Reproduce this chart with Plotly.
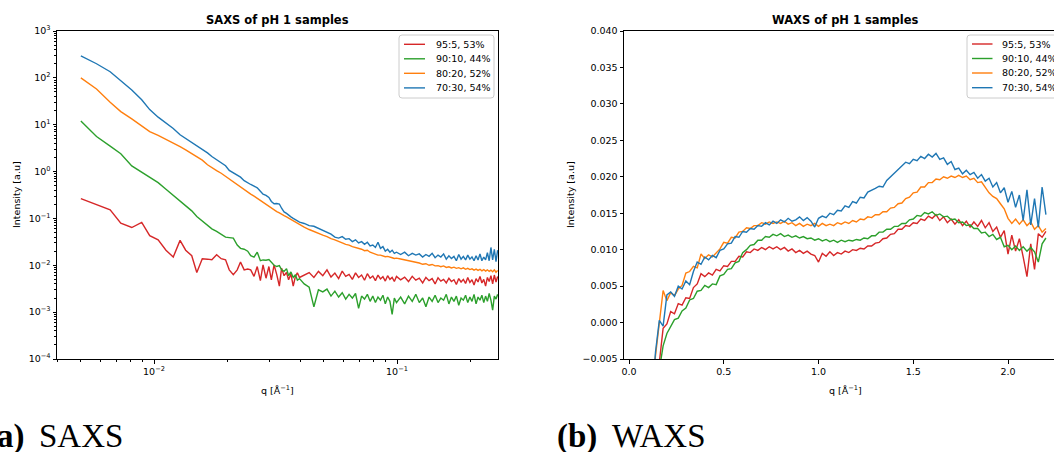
import plotly.graph_objects as go

W, H = 1054, 452

# ---------------- data ----------------
names = ["95:5, 53%", "90:10, 44%", "80:20, 52%", "70:30, 54%"]
colors = ["#d62728", "#2ca02c", "#ff7f0e", "#1f77b4"]

saxs_q = [
    0.0050, 0.0058, 0.0066, 0.0073, 0.0081, 0.0089, 0.0096, 0.0104, 0.0112, 0.0120,
    0.0128, 0.0135, 0.0143, 0.0150, 0.0158, 0.0166, 0.0173, 0.0181, 0.0189, 0.0197,
    0.0204, 0.0212, 0.0220, 0.0227, 0.0235, 0.0243, 0.0250, 0.0258, 0.0266, 0.0274,
    0.0281, 0.0289, 0.0297, 0.0304, 0.0312, 0.0320, 0.0328, 0.0335, 0.0343, 0.0351,
    0.0358, 0.0366, 0.0374, 0.0382, 0.0389, 0.0397,
    0.0415, 0.0435, 0.0455, 0.0475, 0.0495, 0.0515, 0.0535, 0.0555, 0.0575, 0.0595,
    0.0615, 0.0635, 0.0655, 0.0675, 0.0695, 0.0715, 0.0735, 0.0755, 0.0775, 0.0795,
    0.0815, 0.0835, 0.0855, 0.0875, 0.0895, 0.0915, 0.0935, 0.0955, 0.0975, 0.0995,
    0.1035, 0.1075, 0.1115, 0.1155, 0.1195, 0.1235, 0.1275, 0.1315, 0.1355, 0.1395,
    0.1435, 0.1475, 0.1515, 0.1555, 0.1595, 0.1635, 0.1675, 0.1715, 0.1755, 0.1795,
    0.1835, 0.1875, 0.1915, 0.1955, 0.1995, 0.2035, 0.2075, 0.2115, 0.2155, 0.2195,
    0.2235, 0.2275, 0.2315, 0.2355, 0.2395, 0.2435, 0.2475, 0.2515, 0.2555, 0.2595,
]

saxs_red = [
    0.265, 0.20, 0.152, 0.079, 0.064, 0.082, 0.043, 0.035, 0.021, 0.015,
    0.034, 0.021, 0.016, 0.0070, 0.0138, 0.0135, 0.0131, 0.0168, 0.0138, 0.0131,
    0.0080, 0.0063, 0.0080, 0.0117, 0.0080, 0.0083, 0.0080, 0.0058, 0.0094, 0.0047,
    0.0102, 0.0053, 0.0094, 0.0049, 0.0102, 0.0063, 0.0036, 0.0087, 0.0060, 0.0070,
    0.0049, 0.0065, 0.0036, 0.0058, 0.0069, 0.0055,
    0.0062, 0.0070, 0.0055, 0.0074, 0.0060, 0.0080, 0.0056, 0.0068, 0.0052, 0.0075,
    0.0058, 0.0064, 0.0050, 0.0069, 0.0055, 0.0062, 0.0048, 0.0066, 0.0053, 0.0059,
    0.0047, 0.0062, 0.0051, 0.0057, 0.0046, 0.0060, 0.0050, 0.0055, 0.0045, 0.0058,
    0.0049, 0.0056, 0.0045, 0.0058, 0.0048, 0.0053, 0.0042, 0.0055, 0.0047, 0.0052,
    0.0040, 0.0054, 0.0046, 0.0050, 0.0042, 0.0053, 0.0045, 0.0049, 0.0039, 0.0052,
    0.0044, 0.0050, 0.0041, 0.0055, 0.0043, 0.0049, 0.0038, 0.0052, 0.0044, 0.0058,
    0.0042, 0.0050, 0.0036, 0.0055, 0.0045, 0.0060, 0.0040, 0.0062, 0.0044, 0.0058,
]

saxs_green = [
    12.0, 5.6, 3.5, 2.4, 1.32, 0.98, 0.75, 0.58, 0.42, 0.31,
    0.23, 0.19, 0.145, 0.110, 0.088, 0.072, 0.060, 0.053, 0.045, 0.040,
    0.039, 0.038, 0.027, 0.023, 0.022, 0.020, 0.0160, 0.0150, 0.0190, 0.0125,
    0.0130, 0.0128, 0.0132, 0.0118, 0.0100, 0.0094, 0.0098, 0.0080, 0.0074, 0.0085,
    0.0060, 0.0072, 0.0055, 0.0063, 0.0048, 0.0052,
    0.0040, 0.0034, 0.0013, 0.0030, 0.0027, 0.0031, 0.0022, 0.0028, 0.0021, 0.0026,
    0.0019, 0.0024, 0.0020, 0.0025, 0.0012, 0.0022, 0.0019, 0.0024, 0.0017, 0.0022,
    0.0016, 0.0021, 0.0018, 0.0023, 0.0015, 0.0021, 0.0017, 0.0009, 0.0020, 0.0016,
    0.0021, 0.0015, 0.0022, 0.0017, 0.0024, 0.0016, 0.0020, 0.0013, 0.0021, 0.0017,
    0.0023, 0.0016, 0.0020, 0.0018, 0.0024, 0.0015, 0.0021, 0.0017, 0.0022, 0.0014,
    0.0020, 0.0018, 0.0023, 0.0016, 0.0021, 0.0017, 0.0024, 0.0015, 0.0021, 0.0018,
    0.0023, 0.0016, 0.0022, 0.0017, 0.0025, 0.0018, 0.0011, 0.0022, 0.0019, 0.0024,
]

saxs_orange = [
    100, 58, 30, 19, 13.3, 9.2, 7.1, 5.9, 4.9, 4.0,
    3.4, 2.9, 2.4, 2.05, 1.75, 1.40, 1.20, 1.05, 0.92, 0.79,
    0.69, 0.60, 0.53, 0.47, 0.40, 0.36, 0.33, 0.30, 0.27, 0.24,
    0.215, 0.20, 0.185, 0.165, 0.150, 0.140, 0.132, 0.122, 0.115, 0.108,
    0.102, 0.094, 0.088, 0.082, 0.077, 0.073,
    0.065, 0.058, 0.052, 0.048, 0.044, 0.041, 0.037, 0.035, 0.033, 0.030,
    0.028, 0.027, 0.025, 0.024, 0.0225, 0.022, 0.0205, 0.021, 0.019, 0.018,
    0.0175, 0.0165, 0.0165, 0.016, 0.0152, 0.0155, 0.0147, 0.0145, 0.0140, 0.0142,
    0.0136, 0.0130, 0.0127, 0.0122, 0.0118, 0.0112, 0.0105, 0.0108, 0.0100, 0.0104,
    0.0097, 0.0098, 0.0093, 0.0097, 0.0090, 0.0093, 0.0088, 0.0091, 0.0086, 0.0089,
    0.0084, 0.0088, 0.0082, 0.0086, 0.0081, 0.0084, 0.0079, 0.0083, 0.0078, 0.0082,
    0.0076, 0.0081, 0.0075, 0.0080, 0.0074, 0.0079, 0.0073, 0.0080, 0.0071, 0.0078,
]

saxs_blue = [
    295, 200, 135, 88, 55, 34, 21, 14.5, 11.0, 8.3,
    6.1, 5.1, 4.3, 3.6, 3.0, 2.5, 2.1, 1.77, 1.55, 1.33,
    1.06, 0.93, 0.84, 0.76, 0.64, 0.57, 0.53, 0.49, 0.45, 0.38,
    0.33, 0.31, 0.28, 0.23, 0.205, 0.208, 0.203, 0.165, 0.138, 0.128,
    0.116, 0.108, 0.100, 0.094, 0.088, 0.083,
    0.078, 0.070, 0.068, 0.061, 0.055, 0.051, 0.046, 0.040, 0.038, 0.041,
    0.036, 0.037, 0.032, 0.035, 0.030, 0.032, 0.028, 0.031, 0.026, 0.027,
    0.024, 0.031, 0.023, 0.025, 0.020, 0.022, 0.019, 0.021, 0.018, 0.019,
    0.017, 0.019, 0.016, 0.018, 0.0165, 0.0175, 0.015, 0.017, 0.0155, 0.018,
    0.0145, 0.0165, 0.015, 0.0175, 0.0135, 0.016, 0.014, 0.0155, 0.0125, 0.017,
    0.0135, 0.0155, 0.013, 0.0165, 0.0135, 0.015, 0.0125, 0.016, 0.013, 0.0175,
    0.0125, 0.015, 0.013, 0.0185, 0.0125, 0.024, 0.013, 0.022, 0.012, 0.021,
]

waxs_q = [
    0.10, 0.12, 0.14, 0.16, 0.18, 0.20, 0.22, 0.24, 0.26, 0.28,
    0.30, 0.32, 0.34, 0.36, 0.38, 0.40, 0.42, 0.44, 0.46, 0.48,
    0.50, 0.52, 0.54, 0.56, 0.58, 0.60, 0.62, 0.64, 0.66, 0.68,
    0.70, 0.72, 0.74, 0.76, 0.78, 0.80, 0.82, 0.84, 0.86, 0.88,
    0.90, 0.92, 0.94, 0.96, 0.98, 1.00, 1.02, 1.04, 1.06, 1.08,
    1.10, 1.12, 1.14, 1.16, 1.18, 1.20, 1.22, 1.24, 1.26, 1.28,
    1.30, 1.32, 1.34, 1.36, 1.38, 1.40, 1.42, 1.44, 1.46, 1.48,
    1.50, 1.52, 1.54, 1.56, 1.58, 1.60, 1.62, 1.64, 1.66, 1.68,
    1.70, 1.72, 1.74, 1.76, 1.78, 1.80, 1.82, 1.84, 1.86, 1.88,
    1.90, 1.92, 1.94, 1.96, 1.98, 2.00, 2.02, 2.04, 2.06, 2.08,
    2.10, 2.12, 2.14, 2.16, 2.18, 2.20,
]

waxs_red = [
    -0.025, -0.016, -0.009, -0.0055, -0.0008, -0.0002, 0.0015, 0.0012, 0.0026, 0.0024,
    0.0034, 0.0033, 0.0048, 0.0053, 0.0067, 0.0063, 0.0068, 0.0065, 0.0073, 0.0071,
    0.0078, 0.0077, 0.0084, 0.0084, 0.0091, 0.0090, 0.0097, 0.0096, 0.0101, 0.0099,
    0.0103, 0.0100, 0.0104, 0.0101, 0.0104, 0.0100, 0.0103, 0.0098, 0.0101, 0.0096,
    0.0099, 0.0095, 0.0098, 0.0094, 0.0092, 0.0083, 0.0095, 0.0091, 0.0097, 0.0092,
    0.0096, 0.0094, 0.0098, 0.0096, 0.0100, 0.0099, 0.0102, 0.0101, 0.0105, 0.0105,
    0.0109, 0.0110, 0.0115, 0.0116, 0.0121, 0.0122, 0.0128, 0.0128, 0.0133, 0.0132,
    0.0137, 0.0136, 0.0142, 0.0140, 0.0146, 0.0143, 0.0148, 0.0140, 0.0145, 0.0137,
    0.0142, 0.0135, 0.0141, 0.0133, 0.0139, 0.0131, 0.0138, 0.0132, 0.0140, 0.0130,
    0.0137, 0.0125, 0.0131, 0.0117, 0.0126, 0.0094, 0.0120, 0.0098, 0.0115, 0.0090,
    0.0063, 0.0108, 0.0073, 0.0122, 0.0117, 0.0125,
]

waxs_green = [
    -0.025, -0.018, -0.012, -0.0065, -0.0032, -0.0015, -0.0006, 0.0004, 0.0006, 0.0016,
    0.0020, 0.0031, 0.0033, 0.0043, 0.0044, 0.0051, 0.0048, 0.0053, 0.0052, 0.0064,
    0.0066, 0.0073, 0.0074, 0.0082, 0.0084, 0.0096, 0.0100, 0.0106, 0.0107, 0.0113,
    0.0113, 0.0118, 0.0117, 0.0121, 0.0119, 0.0122, 0.0118, 0.0120, 0.0117, 0.0119,
    0.0116, 0.0118, 0.0115, 0.0116, 0.0113, 0.0115, 0.0112, 0.0114, 0.0111, 0.0113,
    0.0110, 0.0113, 0.0111, 0.0113, 0.0112, 0.0114, 0.0113, 0.0116, 0.0115, 0.0119,
    0.0119, 0.0124, 0.0124, 0.0128, 0.0128, 0.0132, 0.0132, 0.0136, 0.0136, 0.0141,
    0.0142, 0.0147, 0.0146, 0.0151, 0.0149, 0.0152, 0.0147, 0.0149, 0.0145, 0.0146,
    0.0141, 0.0142, 0.0137, 0.0138, 0.0133, 0.0134, 0.0129, 0.0129, 0.0123, 0.0124,
    0.0118, 0.0121, 0.0114, 0.0117, 0.0104, 0.0106, 0.0100, 0.0105, 0.0099, 0.0104,
    0.0098, 0.0103, 0.0097, 0.0083, 0.0108, 0.0116,
]

waxs_orange = [
    -0.020, -0.010, -0.0045, 0.0000, 0.0044, 0.0030, 0.0041, 0.0037, 0.0046, 0.0051,
    0.0068, 0.0070, 0.0077, 0.0075, 0.0094, 0.0088, 0.0093, 0.0090, 0.0096, 0.0101,
    0.0110, 0.0109, 0.0117, 0.0116, 0.0124, 0.0125, 0.0130, 0.0129, 0.0133, 0.0133,
    0.0137, 0.0135, 0.0138, 0.0136, 0.0138, 0.0136, 0.0139, 0.0135, 0.0137, 0.0133,
    0.0136, 0.0132, 0.0135, 0.0133, 0.0136, 0.0132, 0.0136, 0.0133, 0.0135, 0.0133,
    0.0137, 0.0135, 0.0138, 0.0136, 0.0140, 0.0138, 0.0142, 0.0141, 0.0145, 0.0144,
    0.0148, 0.0148, 0.0152, 0.0152, 0.0157, 0.0158, 0.0163, 0.0164, 0.0170, 0.0172,
    0.0178, 0.0179, 0.0186, 0.0186, 0.0192, 0.0192, 0.0197, 0.0196, 0.0200, 0.0198,
    0.0201, 0.0199, 0.0202, 0.0199, 0.0201, 0.0196, 0.0198, 0.0192, 0.0193, 0.0185,
    0.0178, 0.0173, 0.0170, 0.0163, 0.0156, 0.0143, 0.0136, 0.0142, 0.0135, 0.0141,
    0.0133, 0.0138, 0.0128, 0.0133, 0.0124, 0.0129,
]

waxs_blue = [
    -0.020, -0.011, -0.004, 0.0003, -0.0005, 0.0038, 0.0042, 0.0036, 0.0050, 0.0046,
    0.0057, 0.0052, 0.0070, 0.0083, 0.0080, 0.0090, 0.0086, 0.0092, 0.0089, 0.0099,
    0.0101, 0.0108, 0.0109, 0.0118, 0.0117, 0.0125, 0.0124, 0.0129, 0.0128, 0.0133,
    0.0132, 0.0137, 0.0134, 0.0139, 0.0136, 0.0141, 0.0138, 0.0143, 0.0139, 0.0141,
    0.0145, 0.0140, 0.0144, 0.0139, 0.0131, 0.0143, 0.0146, 0.0144, 0.0150, 0.0148,
    0.0154, 0.0153, 0.0160, 0.0158, 0.0166, 0.0164, 0.0172, 0.0171, 0.0179, 0.0181,
    0.0184, 0.0187, 0.0186, 0.0195, 0.0200, 0.0205, 0.0210, 0.0214, 0.0220, 0.0218,
    0.0224, 0.0222, 0.0228, 0.0225, 0.0231, 0.0227, 0.0232, 0.0224, 0.0226, 0.0217,
    0.0221, 0.0210, 0.0212, 0.0204, 0.0209, 0.0203, 0.0206, 0.0198, 0.0203, 0.0194,
    0.0198, 0.0186, 0.0192, 0.0178, 0.0185, 0.0165, 0.0180, 0.0158, 0.0175, 0.0140,
    0.0182, 0.0134, 0.0170, 0.0131, 0.0186, 0.0148,
]

saxs_series = [saxs_red, saxs_green, saxs_orange, saxs_blue]
waxs_series = [waxs_red, waxs_green, waxs_orange, waxs_blue]

saxs_ytickvals = [1e-4, 1e-3, 1e-2, 1e-1, 1e0, 1e1, 1e2, 1e3]
saxs_yticktext = ["10<sup>−4</sup>", "10<sup>−3</sup>", "10<sup>−2</sup>", "10<sup>−1</sup>",
                  "10<sup>0</sup>", "10<sup>1</sup>", "10<sup>2</sup>", "10<sup>3</sup>"]
saxs_xtickvals = [1e-2, 1e-1]
saxs_xticktext = ["10<sup>−2</sup>", "10<sup>−1</sup>"]
waxs_xtickvals = [0.0, 0.5, 1.0, 1.5, 2.0]
waxs_xticktext = ["0.0", "0.5", "1.0", "1.5", "2.0"]
waxs_ytickvals = [-0.005, 0.0, 0.005, 0.010, 0.015, 0.020, 0.025, 0.030, 0.035, 0.040]
waxs_yticktext = ["−0.005", "0.000", "0.005", "0.010", "0.015", "0.020", "0.025",
                  "0.030", "0.035", "0.040"]

# ---------------- layout helpers ----------------
def fx(px):
    return px / W


def fy(py):
    return 1 - py / H


TICK_FONT = dict(family="DejaVu Sans", size=9.5, color="black")
LINE_W = 1.4

fig = go.Figure()

for name, col, ys in zip(names, colors, saxs_series):
    fig.add_trace(go.Scatter(x=saxs_q, y=ys, mode="lines", name=name,
                             line=dict(color=col, width=LINE_W),
                             xaxis="x", yaxis="y", showlegend=False))
for name, col, ys in zip(names, colors, waxs_series):
    fig.add_trace(go.Scatter(x=waxs_q, y=ys, mode="lines", name=name,
                             line=dict(color=col, width=LINE_W),
                             xaxis="x2", yaxis="y2", showlegend=False))

minor_x = [m * 10.0 ** e for e in (-3, -2, -1) for m in range(2, 10)]
minor_x = [v for v in minor_x if 0.00399 < v < 0.26]
minor_y = [m * 10.0 ** e for e in range(-4, 3) for m in range(2, 10)]

common = dict(showline=True, linecolor="black", linewidth=1, ticks="outside",
              ticklen=3.5, tickwidth=1, tickcolor="black", showgrid=False,
              zeroline=False, tickfont=TICK_FONT, tickmode="array")
minor_style = dict(tickmode="array", ticks="outside", ticklen=2, tickwidth=0.8,
                   tickcolor="black", showgrid=False)

y_dom = [fy(359), fy(31)]

fig.update_layout(
    width=W, height=H,
    margin=dict(l=0, r=0, t=0, b=0, autoexpand=False),
    paper_bgcolor="white", plot_bgcolor="white",
    showlegend=False,
    xaxis=dict(common, type="log", domain=[fx(57), fx(498)], range=[-2.3992, -0.5844],
               tickvals=saxs_xtickvals, ticktext=saxs_xticktext, mirror=True,
               anchor="y", minor=dict(minor_style, tickvals=minor_x)),
    yaxis=dict(common, type="log", domain=y_dom, range=[-4, 3],
               tickvals=saxs_ytickvals, ticktext=saxs_yticktext, mirror=True,
               anchor="x", minor=dict(minor_style, tickvals=minor_y)),
    xaxis2=dict(common, domain=[fx(624), 1.0], range=[-0.0264, 2.2427],
                tickvals=waxs_xtickvals, ticktext=waxs_xticktext, mirror=True,
                anchor="y2"),
    yaxis2=dict(common, domain=y_dom, range=[-0.005, 0.040],
                tickvals=waxs_ytickvals, ticktext=waxs_yticktext, mirror=False,
                anchor="x2"),
)

ann = []


def text(px, py, s, size=9.5, family="DejaVu Sans", xanchor="center", angle=0, color="black"):
    ann.append(dict(x=fx(px), y=fy(py), xref="paper", yref="paper", text=s,
                    showarrow=False, xanchor=xanchor, yanchor="middle", textangle=angle,
                    font=dict(family=family, size=size, color=color)))


# titles
text(277.5, 20.5, "<b>SAXS of pH 1 samples</b>", size=11.5)
text(845, 20.5, "<b>WAXS of pH 1 samples</b>", size=11.5)
# axis titles
text(17, 195, "Intensity [a.u]", angle=-90)
text(571, 195, "Intensity [a.u]", angle=-90)
text(277.5, 390, "q [Å<sup>−1</sup>]")
text(845, 390, "q [Å<sup>−1</sup>]")
# captions (the left one is cut at the page edge, as in the original figure)
text(-16, 436, "<b>(a)</b>", size=33, family="Liberation Serif", xanchor="left")
text(37, 436, "SAXS", size=33, family="Liberation Serif", xanchor="left")
text(555, 436, "<b>(b)</b>", size=33, family="Liberation Serif", xanchor="left")
text(610, 436, "WAXS", size=33, family="Liberation Serif", xanchor="left")

shapes = []


def rounded_box(x0, y0, x1, y1, r=3):
    X = lambda p: fx(p)
    Y = lambda p: fy(p)
    path = (f"M {X(x0 + r)},{Y(y0)} L {X(x1 - r)},{Y(y0)} Q {X(x1)},{Y(y0)} {X(x1)},{Y(y0 + r)} "
            f"L {X(x1)},{Y(y1 - r)} Q {X(x1)},{Y(y1)} {X(x1 - r)},{Y(y1)} "
            f"L {X(x0 + r)},{Y(y1)} Q {X(x0)},{Y(y1)} {X(x0)},{Y(y1 - r)} "
            f"L {X(x0)},{Y(y0 + r)} Q {X(x0)},{Y(y0)} {X(x0 + r)},{Y(y0)} Z")
    shapes.append(dict(type="path", path=path, xref="paper", yref="paper",
                       fillcolor="rgba(255,255,255,0.8)",
                       line=dict(color="#cccccc", width=1), layer="above"))


def legend(box_x0, box_y0, line_x0, line_x1, text_x, rows):
    rounded_box(box_x0, box_y0, box_x0 + 95, box_y0 + 63)
    for name, col, ry in zip(names, colors, rows):
        shapes.append(dict(type="line", xref="paper", yref="paper",
                           x0=fx(line_x0), x1=fx(line_x1), y0=fy(ry), y1=fy(ry),
                           line=dict(color=col, width=LINE_W), layer="above"))
        text(text_x, ry, name, xanchor="left")


legend(399, 35, 404, 425, 434, [44.3, 58.8, 73.3, 87.9])
legend(967, 35, 972, 992.5, 999.5, [44.0, 58.5, 73.0, 87.7])

fig.update_layout(annotations=ann, shapes=shapes)

fig.write_html("out.html")
